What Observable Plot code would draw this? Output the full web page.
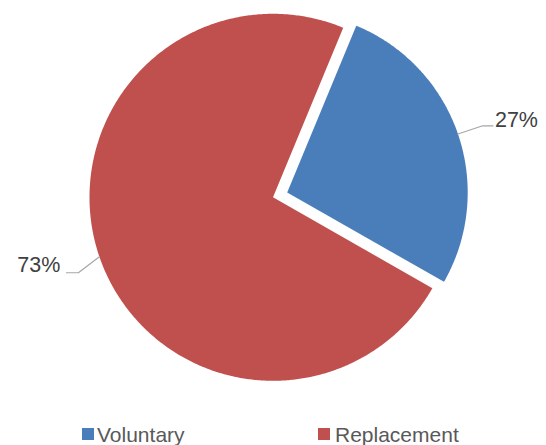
<!DOCTYPE html>
<html><head><meta charset="utf-8">
<script src="https://cdn.jsdelivr.net/npm/d3@7"></script>
<script src="https://cdn.jsdelivr.net/npm/@observablehq/plot@0.6"></script>
<style>
html,body{margin:0;padding:0;overflow:hidden;background:#fff;font-family:"Liberation Sans",Arial,sans-serif}
#chart svg{display:block}
#legend{position:relative;width:546px;height:24px;font-size:21px;line-height:24px;color:#595959}
#legend .sw{position:absolute;top:5px;width:12px;height:12px}
#legend .lb{position:absolute;top:0;white-space:nowrap}
</style></head>
<body><div id="chart"></div><div id="legend"></div>
<script>
// ---- data ----
const categories = ["Voluntary", "Replacement"];
const values = [27, 73];
const labels = ["27%", "73%"];
const colors = ["#4a7ebb", "#c0504d"];

// ---- layout ----
const W = 546, H = 423;
const cx = 272.5, cy = 196.8;
const radii = [180.5, 183.5];
const startDeg = 22.5;
const explode = [15, 0];
const legendX = [[82, 97], [318, 335]];

const a0 = startDeg * Math.PI / 180;
const arcs = d3.pie().sort(null).startAngle(a0).endAngle(a0 + 2 * Math.PI)(values);

const slicePts = [];
const leaderPts = [];
const labelRows = [];
arcs.forEach((a, i) => {
  const R = radii[i];
  const mid = (a.startAngle + a.endAngle) / 2;
  const ox = cx + explode[i] * Math.sin(mid), oy = cy - explode[i] * Math.cos(mid);
  slicePts.push({x: ox, y: oy, cat: categories[i]});
  const n = Math.max(2, Math.ceil((a.endAngle - a.startAngle) / (Math.PI / 360)));
  for (let k = 0; k <= n; k++) {
    const t = a.startAngle + (a.endAngle - a.startAngle) * k / n;
    slicePts.push({x: ox + R * Math.sin(t), y: oy - R * Math.cos(t), cat: categories[i]});
  }
  slicePts.push({x: ox, y: oy, cat: categories[i]});
  // leader line
  const px = ox + R * Math.sin(mid), py = oy - R * Math.cos(mid);
  const right = Math.sin(mid) > 0;
  let p1, p2, tx, ty;
  if (right) {
    p1 = [px + 24, py - 8]; p2 = [p1[0] + 11, p1[1]];
    tx = p2[0] + 2; ty = p2[1] - 6;
  } else {
    p1 = [px - 21, py + 16]; p2 = [p1[0] - 12, p1[1]];
    tx = p2[0] - 6; ty = p2[1] - 7.5;
  }
  [[px, py], p1, p2].forEach(p => leaderPts.push({x: p[0], y: p[1], cat: categories[i]}));
  labelRows.push({x: tx, y: ty, text: labels[i], anchor: right ? "start" : "end"});
});

const chart = Plot.plot({
  width: W, height: H,
  margin: 0,
  x: {domain: [0, W], range: [0, W], axis: null},
  y: {domain: [0, H], range: [0, H], axis: null},
  color: {domain: categories, range: colors},
  marks: [
    Plot.line(slicePts, {x: "x", y: "y", z: "cat", fill: "cat", stroke: "none", curve: "linear"}),
    Plot.line(leaderPts, {x: "x", y: "y", z: "cat", stroke: "#a6a6a6", strokeWidth: 1.2}),
    Plot.text(labelRows.filter(d => d.anchor === "start"), {x: "x", y: "y", text: "text", textAnchor: "start", fontSize: 21.5, fill: "#404040", fontFamily: "Liberation Sans, Arial, sans-serif"}),
    Plot.text(labelRows.filter(d => d.anchor === "end"), {x: "x", y: "y", text: "text", textAnchor: "end", fontSize: 21.5, fill: "#404040", fontFamily: "Liberation Sans, Arial, sans-serif"})
  ]
});
document.getElementById("chart").appendChild(chart);

const leg = document.getElementById("legend");
categories.forEach((c, i) => {
  const sw = document.createElement("span");
  sw.className = "sw"; sw.style.left = legendX[i][0] + "px"; sw.style.background = colors[i];
  const lb = document.createElement("span");
  lb.className = "lb"; lb.style.left = legendX[i][1] + "px"; lb.textContent = c;
  leg.appendChild(sw); leg.appendChild(lb);
});
</script>
</body></html>
